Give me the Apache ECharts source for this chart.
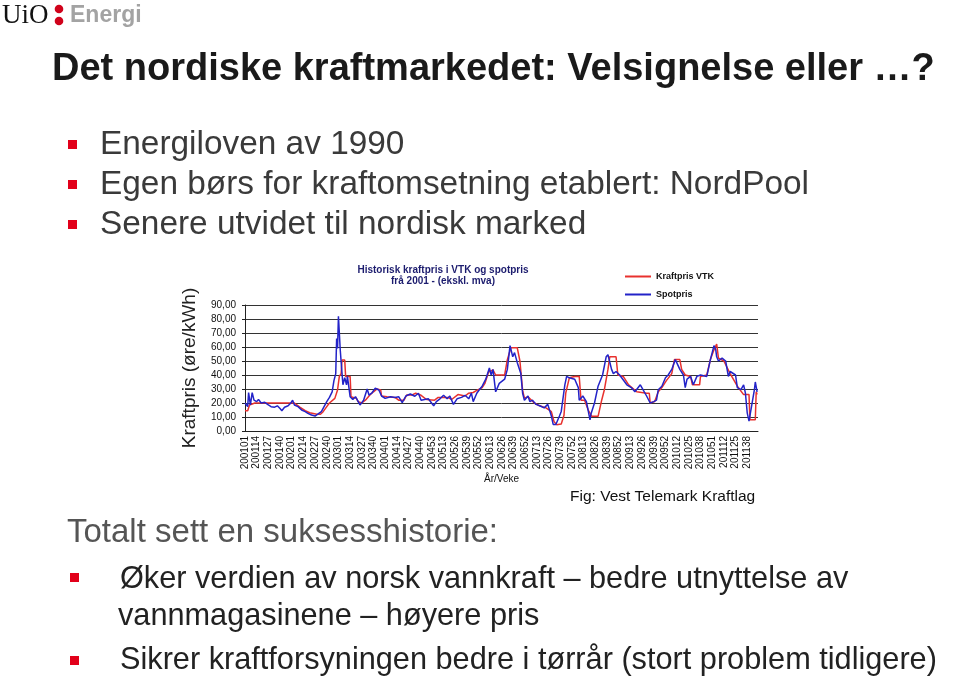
<!DOCTYPE html>
<html>
<head>
<meta charset="utf-8">
<script src="https://cdn.jsdelivr.net/npm/echarts@6/dist/echarts.min.js"></script>
<style>
html,body{margin:0;padding:0;background:#fff;}
#main{width:960px;height:680px;}
</style>
</head>
<body>
<div id="main"></div>
<script>
/*------------数据-------------*/
// veker per år (2011 berre til veke 50)
var aarVeker = [[2001,52],[2002,52],[2003,52],[2004,53],[2005,52],[2006,52],[2007,52],[2008,52],[2009,53],[2010,52],[2011,50]];
var veker = [];
aarVeker.forEach(function(a){
	for(var w=1; w<=a[1]; w++){
		veker.push(a[0] + (w<10 ? '0' : '') + w);
	}
});

// Kraftpris VTK (raud)
var kraftprisVTK = [
	['200101',14.5],['200104',14.5],['200106',18.6],['200112',20],['200204',20],['200205',18.6],
	['200210',17],['200216',14.5],['200221',13],['200229',12],['200233',12],['200236',13.8],
	['200240',17.4],['200243',20],['200249',23.3],['200252',29.3],['200302',39],['200304',41],
	['200305',50.7],['200308',50.7],['200309',39],['200314',39],['200315',24.5],['200321',23.3],
	['200323',21],['200327',20],['200331',22],['200336',25.7],['200340',28],['200344',30],
	['200348',29.3],['200349',25],['200403',24.5],['200412',24],['200416',22],['200422',22],
	['200425',25.7],['200431',25.7],['200435',27],['200441',25.5],['200447',22.5],['200503',22],
	['200507',24],['200518',24],['200522',22.5],['200529',26],['200537',25],['200541',27],
	['200546',27.5],['200550',29],['200604',31],['200607',34],['200611',42],['200616',43.6],
	['200619',40],['200629',40],['200632',51],['200636',59.5],['200643',59.5],['200646',50],
	['200649',29],['200651',23.5],['200703',24.5],['200705',25],['200710',20],['200716',18],
	['200723',16.5],['200729',13.8],['200732',6.7],['200735',4.5],['200740',5],['200743',11],
	['200745',27],['200749',38],['200803',39],['200808',39],['200810',22],['200814',22],
	['200818',15],['200822',10.5],['200829',10.5],['200833',22],['200836',29.5],['200840',44],
	['200842',53],['200849',53],['200851',40],['200905',39],['200911',33],['200920',28],
	['200931',27],['200934',27],['200935',20],['200940',21],['200944',28],['200948',31],
	['200953',36],['201006',41],['201009',51],['201015',51],['201017',44],['201021',40],
	['201027',39],['201029',33],['201037',33],['201038',39],['201045',40],['201049',51],
	['201101',58],['201104',62],['201106',52],['201112',50],['201119',41],['201127',32],
	['201134',26],['201140',26],['201141',8],['201147',8],['201148',28],['201149',26]
];

// Spotpris (blå)
var spotpris = [
	['200101',20],['200102',21],['200104',17.4],['200105',27.4],['200107',18.6],['200109',27.4],
	['200111',22],['200114',21],['200116',22.6],['200119',20],['200123',20.5],['200127',18.6],
	['200130',17.4],['200134',17],['200137',18],['200140',16],['200142',14.5],['200145',17],
	['200149',18],['200152',20],['200202',22],['200204',18.6],['200208',17.4],['200212',15],
	['200216',13.8],['200219',12.6],['200223',11.4],['200227',10.7],['200230',12],['200232',10.7],
	['200234',13.8],['200237',17.4],['200240',21],['200243',24],['200246',28],['200248',36],
	['200250',41],['200251',66],['200252',59],['200301',82],['200303',58],['200305',41],
	['200306',33],['200308',38],['200310',33],['200311',39],['200314',24.5],['200317',22.6],
	['200320',24.5],['200323',21],['200325',18.6],['200329',22],['200333',30],['200335',25.7],
	['200338',27],['200342',30.5],['200346',29.3],['200349',25],['200401',23.3],['200407',24.5],
	['200412',24],['200416',24.5],['200420',20.2],['200424',25],['200429',26.4],['200434',24.8],
	['200438',27],['200441',22],['200449',23],['200502',18],['200505',21],['200509',23],
	['200513',25.5],['200517',23],['200520',25],['200524',19],['200528',23],['200533',24],
	['200537',25.5],['200541',23],['200544',27],['200546',21],['200550',27],['200601',29.6],
	['200604',32],['200608',37],['200612',45],['200614',40],['200616',44],['200619',28],
	['200623',34],['200629',37],['200632',44],['200635',61],['200638',53],['200640',56],
	['200643',49],['200647',41],['200649',27],['200651',22],['200703',25],['200705',21],
	['200708',22],['200712',19],['200716',18],['200721',16.5],['200725',19],['200729',10.7],
	['200731',4.7],['200734',4.7],['200738',10.7],['200740',14],['200744',33],['200746',39],
	['200749',38],['200803',37],['200807',31],['200808',22],['200812',25],['200816',21],
	['200820',8],['200821',12],['200823',10.7],['200825',20],['200829',32],['200834',40],
	['200838',53],['200840',54.5],['200844',44],['200846',41],['200849',42.5],['200901',40],
	['200909',33],['200914',31],['200918',28],['200924',33],['200927',29.5],['200931',25],
	['200935',20],['200939',21],['200942',22],['200944',29.5],['200948',32],['200952',38],
	['201002',40],['201006',44],['201010',51],['201012',52],['201015',44],['201019',40],
	['201021',31],['201023',37],['201027',39],['201030',33],['201034',39],['201038',40],
	['201045',39],['201049',51],['201051',56],['201101',61],['201103',58],['201104',53],
	['201106',50],['201110',52],['201114',50],['201117',39],['201119',42.5],['201125',40],
	['201127',31],['201131',29.5],['201134',33],['201136',27],['201138',13],['201140',7],
	['201142',8],['201144',22],['201146',29.5],['201147',35],['201149',28]
];

/*------------teikning-------------*/
var chart = echarts.init(document.getElementById('main'));
var sans = 'Arial, "Liberation Sans", sans-serif';

function tekst(t, x, y, size, color, weight, align){
	return {
		type:'text',
		style:{
			text:t, x:x, y:y,
			font:(weight||'normal') + ' ' + size + 'px ' + sans,
			fill:color,
			textAlign:align||'left',
			textVerticalAlign:'middle'
		}
	};
}
function punkt(x, y){
	return {type:'rect', shape:{x:x, y:y, width:9, height:9}, style:{fill:'#e2001a'}};
}

var option = {
	animation:false,
	backgroundColor:'#fff',
	graphic:[
		// logo
		{type:'text', style:{text:'UiO', x:2, y:16, font:'27px "Liberation Serif", "DejaVu Serif", serif', fill:'#111', textVerticalAlign:'middle'}},
		{type:'circle', shape:{cx:59, cy:9, r:4.3}, style:{fill:'#d0021b'}},
		{type:'circle', shape:{cx:59, cy:21, r:4.3}, style:{fill:'#d0021b'}},
		tekst('Energi', 70, 16, 23, '#a3a3a3', 'bold'),
		// tittel
		tekst('Det nordiske kraftmarkedet: Velsignelse eller …?', 52, 70, 38, '#1a1a1a', 'bold'),
		punkt(68, 140), tekst('Energiloven av 1990', 100, 145, 33.4, '#3a3a3a'),
		punkt(68, 180), tekst('Egen børs for kraftomsetning etablert: NordPool', 100, 185, 33.4, '#3a3a3a'),
		punkt(68, 220), tekst('Senere utvidet til nordisk marked', 100, 225, 33.4, '#3a3a3a'),
		// figurtittel
		tekst('Historisk kraftpris i VTK og spotpris', 443, 270, 10, '#1c1c6e', 'bold', 'center'),
		tekst('frå 2001 - (ekskl. mva)', 443, 281, 10, '#1c1c6e', 'bold', 'center'),
		tekst('Fig: Vest Telemark Kraftlag', 570, 497, 15.5, '#111'),
		// nedre tekst
		tekst('Totalt sett en suksesshistorie:', 67, 533, 33, '#555'),
		punkt(70, 573), tekst('Øker verdien av norsk vannkraft – bedre utnyttelse av', 120, 580, 30.7, '#222'),
		tekst('vannmagasinene – høyere pris', 118, 617, 30.7, '#222'),
		punkt(70, 656), tekst('Sikrer kraftforsyningen bedre i tørrår (stort problem tidligere)', 120, 661, 30.7, '#222')
	],
	legend:{
		orient:'vertical',
		left:620, top:267,
		icon:'rect',
		itemWidth:26, itemHeight:2,
		itemGap:9,
		textStyle:{fontSize:9, color:'#111', fontFamily:sans, fontWeight:'bold'},
		data:['Kraftpris VTK','Spotpris']
	},
	grid:{left:245, right:202, top:305, bottom:249},
	xAxis:{
		type:'category',
		data:veker,
		boundaryGap:false,
		name:'År/Veke',
		nameLocation:'middle',
		nameGap:43,
		nameTextStyle:{fontSize:10, color:'#111', fontFamily:sans},
		axisLine:{lineStyle:{color:'#222', width:1}},
		axisTick:{show:false},
		axisLabel:{interval:12, rotate:90, fontSize:10, color:'#111', fontFamily:sans, margin:5}
	},
	yAxis:{
		type:'value',
		min:0, max:90, interval:10,
		name:'Kraftpris (øre/kWh)',
		nameLocation:'middle',
		nameGap:46,
		nameTextStyle:{fontSize:19, color:'#222', fontFamily:sans},
		axisLine:{show:true, lineStyle:{color:'#222', width:1}},
		axisTick:{show:true, length:3, lineStyle:{color:'#222'}},
		splitLine:{lineStyle:{color:'#333', width:1}},
		axisLabel:{fontSize:10, color:'#111', fontFamily:sans, margin:9,
			formatter:function(v){ return v.toFixed(2).replace('.', ','); }}
	},
	series:[{
		name:'Kraftpris VTK',
		type:'line',
		data:kraftprisVTK,
		symbol:'none',
		color:'#e8312e',
		lineStyle:{width:1.5, color:'#e8312e'}
	},{
		name:'Spotpris',
		type:'line',
		data:spotpris,
		symbol:'none',
		color:'#2323c8',
		lineStyle:{width:1.5, color:'#2323c8'}
	}]
};
chart.setOption(option);
</script>
</body>
</html>
